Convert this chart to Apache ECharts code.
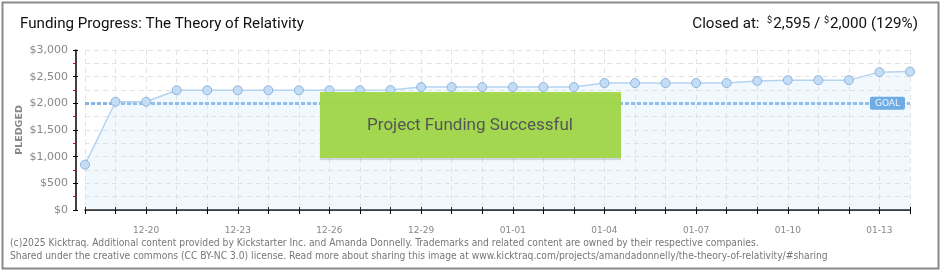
<!DOCTYPE html>
<html>
<head>
<meta charset="utf-8">
<script src="https://cdn.jsdelivr.net/npm/echarts@6/dist/echarts.min.js"></script>
<style>html,body{margin:0;padding:0;background:#fff}#c{width:940px;height:270px}</style>
</head>
<body>
<div id="c"></div>
<script>
// ---- data ----
const dates = ['12-18','12-19','12-20','12-21','12-22','12-23','12-24','12-25','12-26','12-27','12-28','12-29','12-30','12-31',
               '01-01','01-02','01-03','01-04','01-05','01-06','01-07','01-08','01-09','01-10','01-11','01-12','01-13','01-14'];
const pledged = [850,2030,2030,2245,2245,2245,2245,2245,2245,2245,2250,2305,2305,2305,
                 2305,2305,2305,2380,2380,2380,2380,2380,2420,2435,2435,2435,2585,2595];
const goal = 2000;
const yMin = 0, yMax = 3000, yStep = 500;
const titleText = 'Funding Progress: The Theory of Relativity';
const closedPledged = '2,595';
const closedGoal = '2,000';
const closedPct = '129%';
const footer1 = '(c)2025 Kicktraq. Additional content provided by Kickstarter Inc. and Amanda Donnelly. Trademarks and related content are owned by their respective companies.';
const footer2 = 'Shared under the creative commons (CC BY-NC 3.0) license. Read more about sharing this image at www.kicktraq.com/projects/amandadonnelly/the-theory-of-relativity/#sharing';
const bannerText = 'Project Funding Successful';

// ---- font fitting helper ----
const mctx = document.createElement('canvas').getContext('2d');
function fit(text, family, target, weight) {
  mctx.font = (weight || 'normal') + ' 100px ' + family;
  return 100 * target / mctx.measureText(text).width;
}
const titleFam = 'Roboto';
const titleSize = Math.min(16, fit(titleText, titleFam, 284));
const footFam = '"DejaVu Sans Condensed", "DejaVu Sans"';
const footSize = fit(footer1, footFam, 750);

const chart = echarts.init(document.getElementById('c'), null, {renderer: 'canvas'});
const axisFont = 'DejaVu Sans';
const fmtMoney = v => '$' + v.toLocaleString('en-US');

const option = {
  animation: false,
  grid: {left: 85, right: 30, top: 50, bottom: 60},
  xAxis: [{
    type: 'category', data: dates, boundaryGap: false, offset: 11,
    axisLine: {lineStyle: {color: '#000', width: 1.5}},
    axisTick: {show: true, interval: 0, length: 4, lineStyle: {color: '#000'}},
    axisLabel: {interval: (i) => i % 3 === 2, color: '#888', fontFamily: axisFont, fontSize: 9, margin: 5},
    splitLine: {show: true, interval: 0, lineStyle: {color: '#e3e3e3', type: [5, 4]}}
  }, {
    type: 'category', data: dates, boundaryGap: false, offset: 11, position: 'bottom',
    axisLine: {show: false},
    axisTick: {show: true, inside: true, interval: 0, length: 3, lineStyle: {color: '#000'}},
    axisLabel: {show: false}, splitLine: {show: false}
  }],
  yAxis: [{
    type: 'value', min: yMin, max: yMax, interval: yStep, offset: 9,
    name: 'PLEDGED', nameLocation: 'middle', nameGap: 51, nameRotate: 90, nameMoveOverlap: false,
    nameTextStyle: {color: '#888', fontFamily: axisFont, fontSize: 9.5, fontWeight: 'bold'},
    axisLine: {show: true, lineStyle: {color: '#000', width: 1.5}},
    axisTick: {show: true, length: 3, lineStyle: {color: '#000'}},
    minorTick: {show: true, splitNumber: 2, length: 3, lineStyle: {color: '#e00'}},
    axisLabel: {formatter: fmtMoney, color: '#888', fontFamily: axisFont, fontSize: 11, margin: 8},
    splitLine: {show: true, lineStyle: {color: '#e3e3e3', type: [5, 4]}},
    minorSplitLine: {show: true, lineStyle: {color: '#e3e3e3', type: [5, 4]}}
  }, {
    type: 'value', min: yMin, max: yMax, interval: yStep, offset: 9, position: 'left',
    axisLine: {show: false},
    axisTick: {show: true, inside: true, length: 2, lineStyle: {color: '#000'}},
    axisLabel: {show: false}, splitLine: {show: false}
  }],
  series: [{
    type: 'line', data: pledged, xAxisIndex: 0, yAxisIndex: 0,
    symbol: 'circle', symbolSize: 9, z: 3,
    itemStyle: {color: '#c4ddf7', borderColor: '#8fb3d8', borderWidth: 1},
    lineStyle: {color: '#b5d4f2', width: 1.5},
    areaStyle: {color: 'rgba(190,220,250,0.3)'},
    markLine: {
      silent: true, symbol: 'none', z: 2,
      lineStyle: {color: '#86b6e6', width: 3, type: [4, 2]},
      label: {
        show: true, position: 'insideEnd', distance: 5, formatter: 'GOAL',
        backgroundColor: '#5b9ee0', color: '#fff', fontFamily: axisFont, fontSize: 9,
        padding: [2, 5, 2, 5], borderRadius: 2
      },
      data: [{yAxis: goal}]
    }
  }],
  graphic: [
    {type: 'rect', left: 0, top: 0, z: 100, silent: true,
     shape: {x: 1, y: 1, width: 936, height: 266},
     style: {fill: 'none', stroke: '#8a8a8a', lineWidth: 2}},
    {type: 'text', x: 20, y: 24, z: 100,
     style: {text: titleText, fill: '#111', font: titleSize + 'px ' + titleFam, verticalAlign: 'middle', textAlign: 'left'}},
    {type: 'text', x: 918, y: 24, z: 100,
     style: {
       text: '{a|Closed at:  }{s|$}{a|' + closedPledged + ' / }{s|$}{a|' + closedGoal + ' (' + closedPct + ')}',
       textAlign: 'right', verticalAlign: 'middle',
       rich: {
         a: {fill: '#111', fontFamily: titleFam, fontSize: titleSize},
         s: {fill: '#111', fontFamily: titleFam, fontSize: titleSize * 0.6, verticalAlign: 'top', padding: [0, 1, 6, 0]}
       }
     }},
    {type: 'rect', z: 50, silent: true,
     shape: {x: 320, y: 92, width: 301, height: 66},
     style: {fill: 'rgba(160,216,70,0.93)', stroke: null, shadowColor: 'rgba(0,0,0,0.15)', shadowOffsetY: 2, shadowBlur: 1}},
    {type: 'text', z: 51, x: 470, y: 126,
     style: {text: bannerText, fill: '#555', font: '17px Roboto', textAlign: 'center', verticalAlign: 'middle',
             textShadowColor: '#fff', textShadowOffsetX: 1, textShadowOffsetY: 1, textShadowBlur: 0}},
    {type: 'text', x: 10, y: 243, z: 100,
     style: {text: footer1, fill: '#777', font: footSize + 'px ' + footFam, verticalAlign: 'middle'}},
    {type: 'text', x: 10, y: 256, z: 100,
     style: {text: footer2, fill: '#777', font: footSize + 'px ' + footFam, verticalAlign: 'middle'}}
  ]
};
chart.setOption(option);
</script>
</body>
</html>
